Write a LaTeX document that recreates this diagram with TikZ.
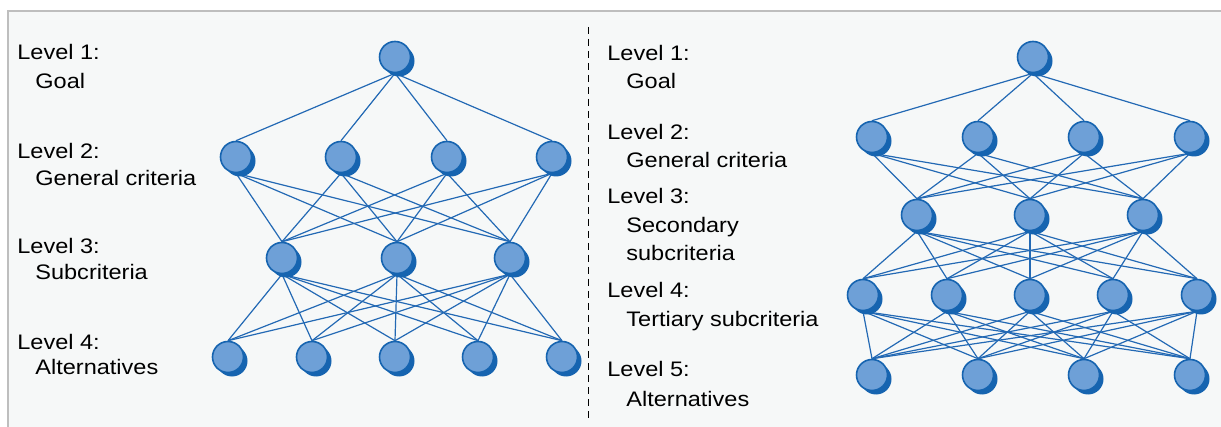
\documentclass[tikz,border=0pt]{standalone}
\usepackage{fontspec}
\setmainfont[FakeStretch=1.12]{Liberation Sans}
\usetikzlibrary{shadows,backgrounds}

\definecolor{nodefill}{RGB}{110,160,215}
\definecolor{nodeblue}{RGB}{22,100,176}
\definecolor{edgeblue}{RGB}{35,105,180}
\definecolor{panelbg}{RGB}{246,248,248}
\definecolor{panelline}{RGB}{190,190,190}

\begin{document}
\begin{tikzpicture}[x=0.5pt,y=-0.5pt,
  crit/.style={circle,draw=nodeblue,line width=0.8pt,fill=nodefill,
    minimum size=15.5pt,inner sep=0pt,
    drop shadow={shadow xshift=2pt,shadow yshift=-2pt,fill=nodeblue,opacity=1}},
  lvl/.style={anchor=base west,inner sep=0pt,font=\fontsize{10.5}{12}\selectfont},
  link/.style={edgeblue,line width=0.6pt}]
\useasboundingbox (0,0) rectangle (1221,427);

% left hierarchy
\node[crit] (g) at (395,57) {};
\node[crit] (c1) at (236,157) {};
\node[crit] (c2) at (341,157) {};
\node[crit] (c3) at (447,157) {};
\node[crit] (c4) at (552,157) {};
\node[crit] (s1) at (282,258) {};
\node[crit] (s2) at (397,258) {};
\node[crit] (s3) at (510,258) {};
\node[crit] (a1) at (228,357) {};
\node[crit] (a2) at (312,357) {};
\node[crit] (a3) at (395,357) {};
\node[crit] (a4) at (478,357) {};
\node[crit] (a5) at (562,357) {};

\node[lvl] (lg) at (17,60) {Level 1:};
\node[lvl] (lgt) at (35,89) {Goal};
\node[lvl] (lc) at (17,159) {Level 2:};
\node[lvl] (lct) at (35,186) {General criteria};
\node[lvl] (ls) at (17,254) {Level 3:};
\node[lvl] (lst) at (35,280) {Subcriteria};
\node[lvl] (la) at (17,350) {Level 4:};
\node[lvl] (lat) at (35,374) {Alternatives};

% right hierarchy
\node[crit] (rg) at (1033,57) {};
\node[crit] (rc1) at (872,137) {};
\node[crit] (rc2) at (978,137) {};
\node[crit] (rc3) at (1084,137) {};
\node[crit] (rc4) at (1190,137) {};
\node[crit] (rs1) at (917,215) {};
\node[crit] (rs2) at (1030,215) {};
\node[crit] (rs3) at (1143,215) {};
\node[crit] (rt1) at (863,295) {};
\node[crit] (rt2) at (947,295) {};
\node[crit] (rt3) at (1030,295) {};
\node[crit] (rt4) at (1113,295) {};
\node[crit] (rt5) at (1197,295) {};
\node[crit] (ra1) at (872,375) {};
\node[crit] (ra2) at (978,375) {};
\node[crit] (ra3) at (1084,375) {};
\node[crit] (ra4) at (1190,375) {};

\node[lvl] (rlg) at (607,61) {Level 1:};
\node[lvl] (rlgt) at (626,89) {Goal};
\node[lvl] (rlc) at (607,140) {Level 2:};
\node[lvl] (rlct) at (626,168) {General criteria};
\node[lvl] (rls) at (607,204) {Level 3:};
\node[lvl] (rlst) at (626,233) {Secondary};
\node[lvl] (rlsu) at (626,261) {subcriteria};
\node[lvl] (rlt) at (607,298) {Level 4:};
\node[lvl] (rltt) at (626,327) {Tertiary subcriteria};
\node[lvl] (rla) at (607,377) {Level 5:};
\node[lvl] (rlat) at (626,406) {Alternatives};

\begin{scope}[on background layer]
\fill[panelbg] (8,11) rectangle (1221,427);
\draw[panelline,line width=1pt] (8,427) -- (8,11) -- (1221,11);
\draw[black,line width=0.5pt,dash pattern=on 3.5pt off 2.5pt] (588,27) -- (588,420);

% links, left
\foreach \i in {1,...,4} \draw[link] (g.south) -- (c\i.north);
\foreach \i in {1,...,4} \foreach \j in {1,2,3} \draw[link] (c\i.south) -- (s\j.north);
\foreach \i in {1,2,3} \foreach \j in {1,...,5} \draw[link] (s\i.south) -- (a\j.north);

% links, right
\foreach \i in {1,...,4} \draw[link] (rg.south) -- (rc\i.north);
\foreach \i in {1,...,4} \foreach \j in {1,2,3} \draw[link] (rc\i.south) -- (rs\j.north);
\foreach \i in {1,2,3} \foreach \j in {1,...,5} \draw[link] (rs\i.south) -- (rt\j.north);
\foreach \i in {1,...,5} \foreach \j in {1,...,4} \draw[link] (rt\i.south) -- (ra\j.north);
\end{scope}
\end{tikzpicture}
\end{document}
